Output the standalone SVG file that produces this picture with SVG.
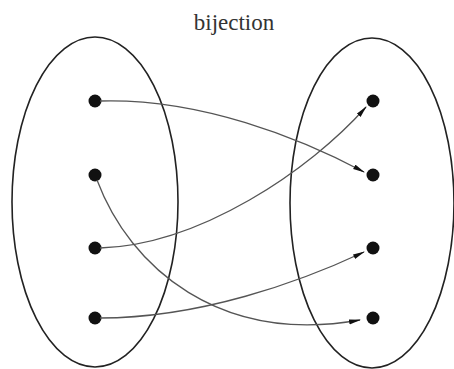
<svg xmlns="http://www.w3.org/2000/svg" width="454" height="369" viewBox="0 0 454 369">
<style>
.set{fill:none;stroke:#222;stroke-width:1.6}
.dot{fill:#111}
.edge{fill:none;stroke:#555;stroke-width:1.3;marker-end:url(#ah)}
.lbl{font-family:"Liberation Serif",serif;font-size:23px;fill:#333}
</style>
<defs>
<marker id="ah" viewBox="0 0 12 6" refX="11" refY="3" markerWidth="12" markerHeight="6" markerUnits="userSpaceOnUse" orient="auto">
<path d="M0,0.5 L12,3 L0,5.5 Z" fill="#111"/>
</marker>
</defs>
<rect width="454" height="369" fill="#fff"/>
<text class="lbl" x="234" y="30" text-anchor="middle">bijection</text>
<g id="setA"><ellipse class="set" cx="95" cy="202" rx="83" ry="165"/></g>
<g id="setB"><ellipse class="set" cx="372" cy="203" rx="82" ry="165"/></g>
<g id="a1"><circle class="dot" cx="95" cy="101" r="6.5"/></g>
<g id="a2"><circle class="dot" cx="95" cy="175" r="6.5"/></g>
<g id="a3"><circle class="dot" cx="95" cy="248" r="6.5"/></g>
<g id="a4"><circle class="dot" cx="95" cy="318" r="6.5"/></g>
<g id="b1"><circle class="dot" cx="373" cy="101" r="6.5"/></g>
<g id="b2"><circle class="dot" cx="373" cy="175" r="6.5"/></g>
<g id="b3"><circle class="dot" cx="373" cy="248" r="6.5"/></g>
<g id="b4"><circle class="dot" cx="373" cy="318" r="6.5"/></g>
<g id="connectors">
<path class="edge" d="M100,101 C200,98 300,138 364,172"/>
<path class="edge" d="M97,180 C130,268 220,345 360,320"/>
<path class="edge" d="M100,248 C200,245 310,170 366,107"/>
<path class="edge" d="M100,318 C200,318 300,282 364,252"/>
</g>
</svg>
